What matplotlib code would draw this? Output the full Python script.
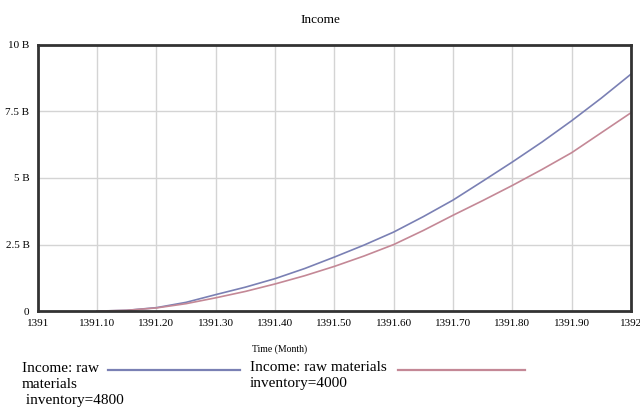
import matplotlib
matplotlib.use('Agg')
import matplotlib.pyplot as plt
from matplotlib.lines import Line2D

months = [1391.10, 1391.15, 1391.20, 1391.25, 1391.30, 1391.35, 1391.40,
          1391.45, 1391.50, 1391.55, 1391.60, 1391.65, 1391.70, 1391.75,
          1391.80, 1391.85, 1391.90, 1391.95, 1392.00]
income_4800 = [0.0, 0.03, 0.13, 0.33, 0.62, 0.90, 1.22, 1.60, 2.03, 2.48,
               2.97, 3.55, 4.17, 4.88, 5.60, 6.35, 7.15, 8.00, 8.90]
income_4000 = [0.0, 0.03, 0.12, 0.28, 0.50, 0.74, 1.02, 1.33, 1.68, 2.07,
               2.50, 3.03, 3.60, 4.15, 4.72, 5.32, 5.95, 6.70, 7.45]
x_ticks = [1391.0, 1391.1, 1391.2, 1391.3, 1391.4, 1391.5, 1391.6, 1391.7,
           1391.8, 1391.9, 1392.0]
x_labels = ['1391', '1391.10', '1391.20', '1391.30', '1391.40', '1391.50',
            '1391.60', '1391.70', '1391.80', '1391.90', '1392']
y_ticks = [0, 2.5, 5, 7.5, 10]
y_labels = ['0', '2.5 B', '5 B', '7.5 B', '10 B']

blue = '#7a80b4'
red = '#c48896'
serif = ['Liberation Serif', 'DejaVu Serif']

fig = plt.figure(figsize=(6.4, 4.11), dpi=100)
ax = fig.add_axes([0.059, 0.243, 0.927, 0.648])
ax.plot(months, income_4800, color=blue, lw=1.2)
ax.plot(months, income_4000, color=red, lw=1.2)
ax.set_xlim(1391.0, 1392.0)
ax.set_ylim(0, 10)
ax.set_xticks(x_ticks)
ax.set_xticklabels(x_labels, family=serif, fontsize=8)
ax.set_yticks(y_ticks)
ax.set_yticklabels(y_labels, family=serif, fontsize=8)
ax.tick_params(length=0, pad=6)
ax.grid(True, color='#d4d4d4', lw=1)
for s in ax.spines.values():
    s.set_linewidth(2)
    s.set_color('#333333')
ax.set_xlabel('Time (Month)', family=serif, fontsize=7, labelpad=10)
ax.xaxis.set_label_coords(0.408, -0.125)

fig.text(0.5, 0.951, 'Income', ha='center', va='center', family=serif, fontsize=9.5)

# legend drawn below the axes
fig.text(0.034, 0.064, 'Income: raw\nmaterials\n inventory=4800', ha='left',
         va='center', family=serif, fontsize=11, linespacing=1.3)
fig.add_artist(Line2D([0.169, 0.375], [0.1, 0.1], color=blue, lw=1.6))
fig.text(0.39, 0.086, 'Income: raw materials\ninventory=4000', ha='left',
         va='center', family=serif, fontsize=11, linespacing=1.3)
fig.add_artist(Line2D([0.622, 0.82], [0.1, 0.1], color=red, lw=1.6))

fig.savefig('out.png', dpi=100)
